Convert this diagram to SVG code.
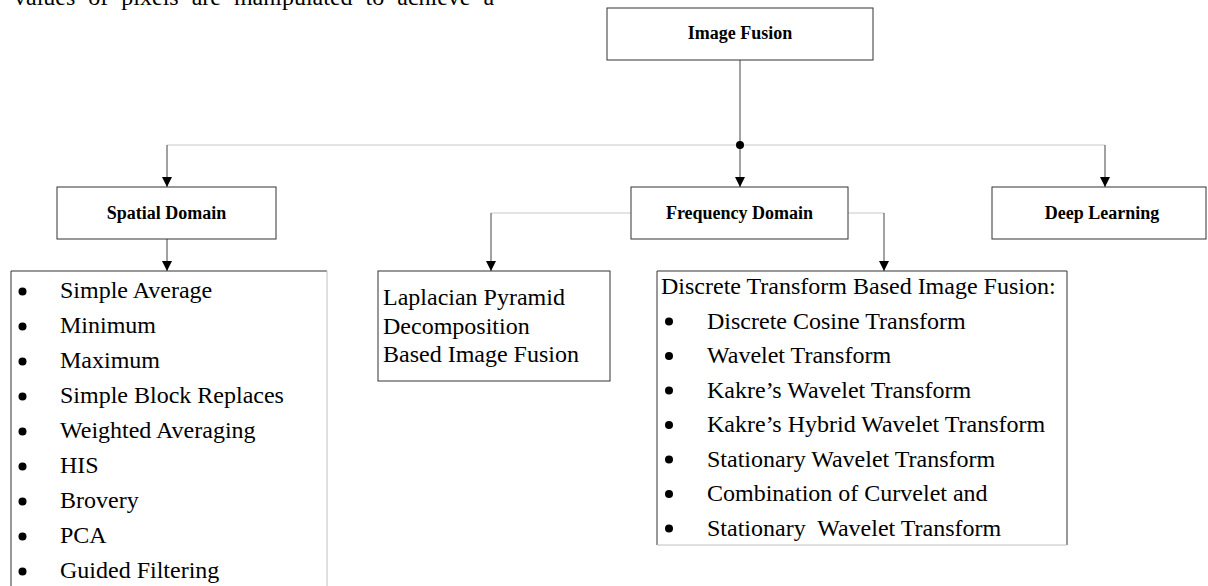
<svg xmlns="http://www.w3.org/2000/svg" width="1208" height="586" viewBox="0 0 1208 586">
  <style>
    .box { fill: #ffffff; stroke: #333333; stroke-width: 1; }
    .lbl { font-family: "Liberation Serif", "Times New Roman", serif; font-weight: bold; font-size: 18px; fill: #000000; text-anchor: middle; }
    .item { font-family: "Liberation Serif", "Times New Roman", serif; font-size: 24px; fill: #000000; }
    .body { font-family: "Liberation Serif", "Times New Roman", serif; font-size: 24px; fill: #000000; }
    .wire { fill: none; stroke: #444444; stroke-width: 1; }
    .wire-light { fill: none; stroke: #c8c8c8; stroke-width: 1; }
    .bullet { fill: #000000; }
  </style>
  <defs>
    <marker id="arrow" markerWidth="10" markerHeight="10" refX="10" refY="5" orient="auto" markerUnits="userSpaceOnUse" viewBox="0 0 10 10">
      <path d="M0,0 L10,5 L0,10 Z" fill="#000000"/>
    </marker>
  </defs>

  <rect width="1208" height="586" fill="#ffffff"/>

  <text class="body" x="14" y="4.5" word-spacing="7">values of pixels are manipulated to achieve a</text>

  <g id="connectors">
    <line class="wire-light" x1="167" y1="145" x2="1105" y2="145"/>
    <line class="wire" x1="740" y1="60" x2="740" y2="145"/>
    <line class="wire" x1="740" y1="145" x2="740" y2="187" marker-end="url(#arrow)"/>
    <circle cx="740" cy="145" r="4" fill="#000000"/>
    <line class="wire" x1="167" y1="145" x2="167" y2="187" marker-end="url(#arrow)"/>
    <line class="wire" x1="1105" y1="145" x2="1105" y2="187" marker-end="url(#arrow)"/>
    <line class="wire" x1="167" y1="239" x2="167" y2="271" marker-end="url(#arrow)"/>
    <polyline class="wire-light" points="631,213 491,213"/>
    <line class="wire" x1="491" y1="213" x2="491" y2="271" marker-end="url(#arrow)"/>
    <polyline class="wire-light" points="848,213 884,213"/>
    <line class="wire" x1="884" y1="213" x2="884" y2="271" marker-end="url(#arrow)"/>
  </g>

  <g id="image-fusion">
    <rect class="box" x="607" y="8" width="266" height="52"/>
    <text class="lbl" x="740" y="39">Image Fusion</text>
  </g>

  <g id="spatial-domain">
    <rect class="box" x="57" y="187" width="219" height="52"/>
    <text class="lbl" x="166.5" y="219">Spatial Domain</text>
  </g>

  <g id="frequency-domain">
    <rect class="box" x="631" y="187" width="217" height="52"/>
    <text class="lbl" x="739.5" y="219">Frequency Domain</text>
  </g>

  <g id="deep-learning">
    <rect class="box" x="992" y="187" width="214" height="52"/>
    <text class="lbl" x="1102" y="219">Deep Learning</text>
  </g>

  <g id="spatial-list">
    <path d="M327,271 L11,271 L11,600" fill="none" stroke="#333333" stroke-width="1"/>
    <line x1="327" y1="271" x2="327" y2="600" stroke="#c0c0c0" stroke-width="1"/>
    <g class="bullet">
      <circle cx="22.5" cy="291.5" r="4"/>
      <circle cx="22.5" cy="326.5" r="4"/>
      <circle cx="22.5" cy="361.5" r="4"/>
      <circle cx="22.5" cy="396.5" r="4"/>
      <circle cx="22.5" cy="431.5" r="4"/>
      <circle cx="22.5" cy="466.5" r="4"/>
      <circle cx="22.5" cy="501.5" r="4"/>
      <circle cx="22.5" cy="536.5" r="4"/>
      <circle cx="22.5" cy="571.5" r="4"/>
    </g>
    <text class="item" x="60" y="298">Simple Average</text>
    <text class="item" x="60" y="333">Minimum</text>
    <text class="item" x="60" y="368">Maximum</text>
    <text class="item" x="60" y="403">Simple Block Replaces</text>
    <text class="item" x="60" y="438">Weighted Averaging</text>
    <text class="item" x="60" y="473">HIS</text>
    <text class="item" x="60" y="508">Brovery</text>
    <text class="item" x="60" y="543">PCA</text>
    <text class="item" x="60" y="578">Guided Filtering</text>
  </g>

  <g id="laplacian">
    <rect class="box" x="378" y="271" width="232" height="110"/>
    <text class="item" x="383" y="305">Laplacian Pyramid</text>
    <text class="item" x="383" y="333.5">Decomposition</text>
    <text class="item" x="383" y="362">Based Image Fusion</text>
  </g>

  <g id="discrete-transform">
    <path d="M657,545 L657,271 L1067,271 L1067,545" fill="none" stroke="#333333" stroke-width="1"/>
    <line x1="657" y1="545" x2="1067" y2="545" stroke="#c0c0c0" stroke-width="1"/>
    <text class="item" x="661" y="294">Discrete Transform Based Image Fusion:</text>
    <g class="bullet">
      <circle cx="669" cy="321.5" r="4"/>
      <circle cx="669" cy="356" r="4"/>
      <circle cx="669" cy="390.5" r="4"/>
      <circle cx="669" cy="425" r="4"/>
      <circle cx="669" cy="459.5" r="4"/>
      <circle cx="669" cy="494" r="4"/>
      <circle cx="669" cy="528.5" r="4"/>
    </g>
    <text class="item" x="707" y="328.5">Discrete Cosine Transform</text>
    <text class="item" x="707" y="363">Wavelet Transform</text>
    <text class="item" x="707" y="397.5">Kakre’s Wavelet Transform</text>
    <text class="item" x="707" y="432">Kakre’s Hybrid Wavelet Transform</text>
    <text class="item" x="707" y="466.5">Stationary Wavelet Transform</text>
    <text class="item" x="707" y="501">Combination of Curvelet and</text>
    <text class="item" x="707" y="535.5" xml:space="preserve">Stationary  Wavelet Transform</text>
  </g>
</svg>
